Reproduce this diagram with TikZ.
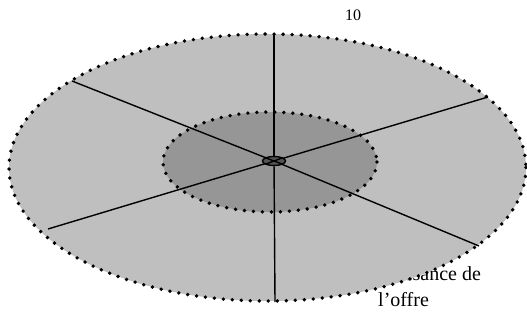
\documentclass[tikz,border=0pt]{standalone}
\usepackage{fontspec}
\setmainfont{Liberation Serif}
\tikzset{
  rim/.style={line width=3.8pt,line cap=round,dash pattern=on 0pt off 9pt},
  spoke/.style={line width=1.4pt}
}
\begin{document}
\begin{tikzpicture}[x=1pt,y=-1pt]
  \useasboundingbox (0,0) rectangle (527,320);
  \def\cx{267.5}\def\cy{167.5}\def\R{258.5}\def\r{133.5}
  % text behind the disc
  \node[anchor=north west,inner sep=0pt,align=left,font=\fontsize{20}{26}\selectfont] (offre) at (378,266) {Puissance de\\l'offre};
  \node[anchor=base west,inner sep=0pt,font=\fontsize{16}{18}\selectfont] (page) at (345,21) {10};
  \fill[black!25] (\cx,\cy) ellipse [x radius=\R,y radius=\r];
  \draw[rim] (\cx,\cy) ellipse [x radius=\R,y radius=\r];
  \fill[black!41] (270,162) ellipse [x radius=107,y radius=50];
  \draw[rim] (270,162) ellipse [x radius=107,y radius=50];
  \coordinate (hub) at (274,161);
  \coordinate (n) at (274,34);
  \coordinate (s) at (275,302);
  \coordinate (nw) at (72,81);
  \coordinate (sw) at (48,229);
  \coordinate (ne) at (488,97);
  \coordinate (se) at (479,246);
  \foreach \p in {n,s,nw,sw,ne,se}
    \draw[spoke] (hub) -- (\p);
  \draw[spoke,fill=black!67] (hub) ellipse [x radius=11.5,y radius=4.5];
  \draw[spoke] (hub) ++(-8,-3) -- ++(16,6) (hub) ++(-8,3) -- ++(16,-6);
\end{tikzpicture}
\end{document}
